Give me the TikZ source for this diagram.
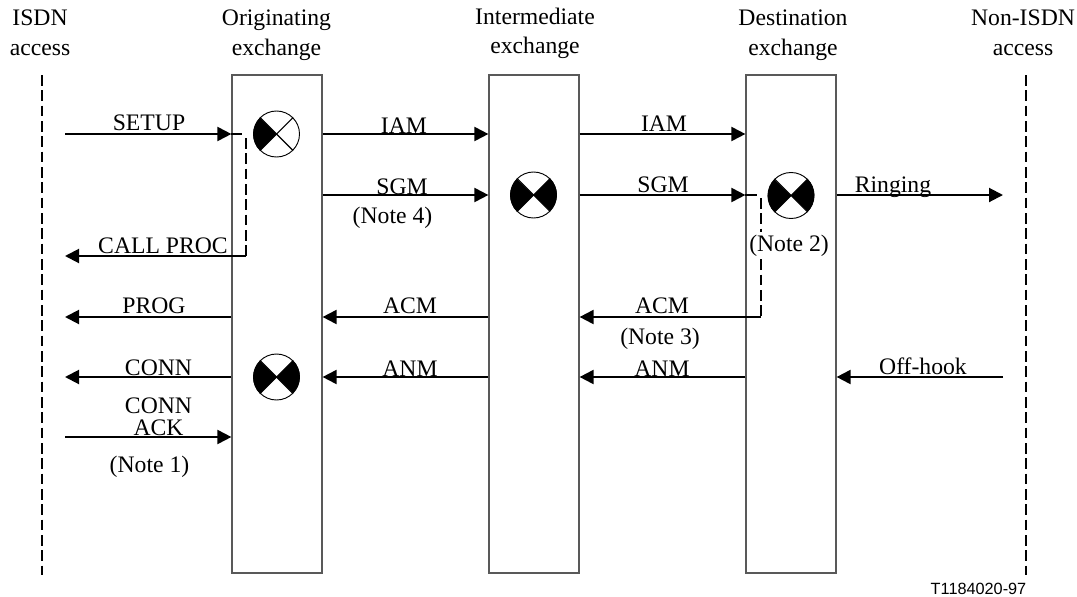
\documentclass[tikz,border=0pt]{standalone}
\usepackage{fontspec}
\setmainfont{Liberation Serif}
\newfontfamily\figfont{Liberation Sans}
\usetikzlibrary{arrows.meta}

\tikzset{
  sig/.style={line width=1.5pt,-{Triangle[length=10.5pt,width=10.5pt]}},
  plainsig/.style={line width=1.5pt},
  branch/.style={line width=1.5pt,dash pattern=on 8pt off 3.5pt},
  access/.style={line width=1.5pt,dash pattern=on 8pt off 3.5pt},
  exch/.style={draw=black!65,line width=0.9pt,fill=white,minimum width=67.5pt,minimum height=373.5pt,inner sep=0pt},
  lab/.style={anchor=base,inner sep=0pt,font=\fontsize{17.75}{20}\selectfont},
  swpt/.style={circle,draw,line width=0.7pt,minimum size=34.5pt,inner sep=0pt}
}

\begin{document}
\begin{tikzpicture}[x=0.75pt,y=-0.75pt]
\useasboundingbox (0,0) rectangle (1077,596);

% exchanges
\node[exch] (orig) at (277,324) {};
\node[exch] (inter) at (534,324) {};
\node[exch] (dest) at (791,324) {};

% access lines
\coordinate (isdnt) at (42,75);
\coordinate (isdnb) at (42,575);
\coordinate (nont) at (1026,75);
\coordinate (nonb) at (1026,575);
\draw[access] (isdnt) -- (isdnb);
\draw[access] (nont) -- (nonb);

% free ends on the left
\coordinate (l1) at (65,134);
\coordinate (l2) at (65,256);
\coordinate (l3) at (65,317);
\coordinate (l4) at (65,377);
\coordinate (l5) at (65,437);
% free ends on the right
\coordinate (r1) at (1003,195);
\coordinate (r2) at (1003,377);

% first exchange
\draw[sig] (l1) -- (l1-|orig.west);
\draw[sig] (l3-|orig.west) -- (l3);
\draw[sig] (l4-|orig.west) -- (l4);
\draw[sig] (l5) -- (l5-|orig.west);

% between the exchanges
\draw[sig] (orig.east|-l1) -- (inter.west|-l1);
\draw[sig] (orig.east|-r1) -- (inter.west|-r1);
\draw[sig] (inter.west|-l3) -- (orig.east|-l3);
\draw[sig] (inter.west|-l4) -- (orig.east|-l4);
\draw[sig] (inter.east|-l1) -- (dest.west|-l1);
\draw[sig] (inter.east|-r1) -- (dest.west|-r1);
\draw[sig] (dest.west|-l4) -- (inter.east|-l4);

% last exchange
\draw[sig] (dest.east|-r1) -- (r1);
\draw[sig] (r2) -- (dest.east|-r2);

% through connections
\coordinate (ta) at (242,134);
\coordinate (tb) at (246,138);
\coordinate (tc) at (246,256);
\draw[plainsig] (orig.west|-ta) -- (ta);
\draw[branch] (tb) -- (tc);
\draw[sig] (tc) -- (l2);

\coordinate (ua) at (757,195);
\coordinate (ub) at (761,198);
\coordinate (uc) at (761,317);
\draw[plainsig] (dest.west|-ua) -- (ua);
\draw[branch] (ub) -- (uc);
\draw[sig] (uc) -- (inter.east|-l3);

% switching points
\node[swpt] (s1) at (276.5,134) {};
\node[swpt] (s2) at (276.5,377) {};
\node[swpt] (s3) at (533.5,195) {};
\node[swpt] (s4) at (791,195.5) {};
\foreach \s in {s1,s2,s3,s4} {
  \draw[line width=0.8pt] (\s.45) -- (\s.225);
  \draw[line width=0.8pt] (\s.135) -- (\s.315);
  \fill (\s.center) -- (\s.225) arc[start angle=135,end angle=225,radius=23] -- cycle;
}
\foreach \s in {s2,s3,s4} {
  \fill (\s.center) -- (\s.45) arc[start angle=-45,end angle=45,radius=23] -- cycle;
}

% headings
\node[lab] (h1a) at (40,26) {ISDN};
\node[lab] (h1b) at (40,55) {access};
\node[lab] (h2a) at (276.5,26) {Originating};
\node[lab] (h2b) at (276.5,55) {exchange};
\node[lab] (h3a) at (535,24) {Intermediate};
\node[lab] (h3b) at (535,53) {exchange};
\node[lab] (h4a) at (793,26) {Destination};
\node[lab] (h4b) at (793,55) {exchange};
\node[lab] (h5a) at (1023,26) {Non-ISDN};
\node[lab] (h5b) at (1023,55) {access};

% messages
\node[lab] (m1) at (149,130.5) {SETUP};
\node[lab] (m2) at (163,253) {CALL PROC};
\node[lab] (m3) at (154,313) {PROG};
\node[lab] (m4) at (158.5,375) {CONN};
\node[lab] (m5) at (158.5,413) {CONN};
\node[lab] (m6) at (158.5,435) {ACK};
\node[lab] (m7) at (149.5,472) {(Note 1)};
\node[lab] (m8) at (404,133) {IAM};
\node[lab] (m9) at (402,194) {SGM};
\node[lab] (m10) at (392.5,223.5) {(Note 4)};
\node[lab] (m11) at (410,313) {ACM};
\node[lab] (m12) at (410,376) {ANM};
\node[lab] (m13) at (664,131) {IAM};
\node[lab] (m14) at (663,192) {SGM};
\node[lab] (m15) at (662,313) {ACM};
\node[lab] (m16) at (660,344) {(Note 3)};
\node[lab] (m17) at (662,376) {ANM};
\node[lab] (m18) at (893,192) {Ringing};
\node[lab] (m19) at (923,374) {Off-hook};
\node[lab,fill=white,inner ysep=2pt] (m20) at (789,251) {(Note 2)};
\node[anchor=base,inner sep=0pt,font=\figfont\fontsize{12.2}{14}\selectfont] (fig) at (978.5,594) {T1184020-97};

\end{tikzpicture}
\end{document}
